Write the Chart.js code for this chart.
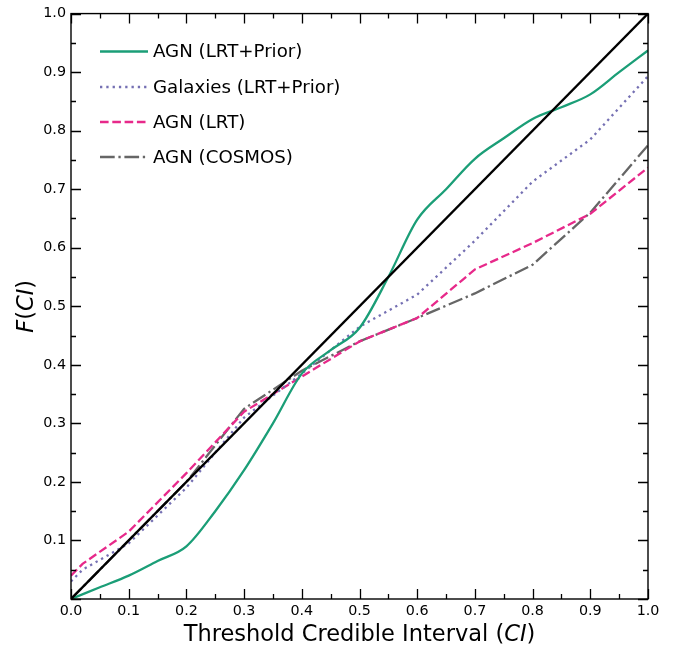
<!DOCTYPE html>
<html>
<head>
<meta charset="utf-8">
<script src="https://cdn.jsdelivr.net/npm/chart.js@4"></script>
<style>
  html, body { margin: 0; padding: 0; background: #ffffff; }
  #wrap { width: 673px; height: 647px; position: relative; }
</style>
</head>
<body>
<div id="wrap"><canvas id="cdf"></canvas></div>
<script>
// Values
const xGreen = [0, 0.05, 0.1, 0.15, 0.2, 0.25, 0.3, 0.35, 0.4, 0.45, 0.5, 0.55, 0.6, 0.65, 0.7, 0.75, 0.8, 0.85, 0.9, 0.95, 1.0];
const agnPrior = [0, 0.02, 0.04, 0.065, 0.09, 0.15, 0.22, 0.3, 0.385, 0.425, 0.463, 0.55, 0.648, 0.7, 0.752, 0.787, 0.82, 0.84, 0.862, 0.9, 0.937];

const xGal = [0, 0.02, 0.1, 0.2, 0.3, 0.4, 0.5, 0.6, 0.7, 0.8, 0.9, 1.0];
const galPrior = [0.03, 0.05, 0.095, 0.19, 0.31, 0.385, 0.465, 0.52, 0.612, 0.713, 0.785, 0.893];

const xLrt = [0, 0.02, 0.1, 0.2, 0.3, 0.4, 0.5, 0.6, 0.7, 0.8, 0.9, 1.0];
const agnLrt = [0.04, 0.06, 0.115, 0.215, 0.32, 0.38, 0.44, 0.48, 0.563, 0.608, 0.658, 0.737];

const xCos = [0, 0.1, 0.2, 0.3, 0.4, 0.5, 0.6, 0.7, 0.8, 0.9, 1.0];
const agnCosmos = [0.0, 0.1, 0.2, 0.325, 0.39, 0.44, 0.48, 0.522, 0.571, 0.66, 0.775];

const xDiag = [0, 1];
const yDiag = [0, 1];

const pts = (xs, ys) => xs.map((x, i) => ({ x: x, y: ys[i] }));

const FONT = '"DejaVu Sans", sans-serif';
const LW = 2.3;

// inward ticks on all four sides + frame
const frameTicks = {
    id: 'frameTicks',
    afterDraw(chart) {
        const { ctx, chartArea: a, scales } = chart;
        const xs = scales.x, ys = scales.y;
        ctx.save();
        ctx.strokeStyle = '#000000';
        ctx.lineWidth = 1.3;
        for (let k = 0; k <= 20; k++) {
            const v = k * 0.05;
            const len = k % 2 === 0 ? 10 : 5;
            const px = Math.round(xs.getPixelForValue(v)) + 0.5;
            const py = Math.round(ys.getPixelForValue(v)) + 0.5;
            ctx.beginPath();
            ctx.moveTo(px, a.bottom); ctx.lineTo(px, a.bottom - len);
            ctx.moveTo(px, a.top); ctx.lineTo(px, a.top + len);
            ctx.moveTo(a.left, py); ctx.lineTo(a.left + len, py);
            ctx.moveTo(a.right, py); ctx.lineTo(a.right - len, py);
            ctx.stroke();
        }
        ctx.lineWidth = 1.4;
        ctx.strokeRect(a.left, a.top, a.right - a.left, a.bottom - a.top);
        ctx.restore();
    }
};

// axis titles with italic CI, drawn as text pieces
function drawPieces(ctx, pieces, size) {
    let total = 0;
    pieces.forEach(p => {
        ctx.font = (p.it ? 'italic ' : '') + size + 'px ' + FONT;
        p.w = ctx.measureText(p.t).width;
        total += p.w;
    });
    let x = -total / 2;
    pieces.forEach(p => {
        ctx.font = (p.it ? 'italic ' : '') + size + 'px ' + FONT;
        ctx.fillText(p.t, x, 0);
        x += p.w;
    });
}

const axisTitles = {
    id: 'axisTitles',
    afterDraw(chart) {
        const { ctx, chartArea: a } = chart;
        ctx.save();
        ctx.fillStyle = '#000000';
        ctx.textAlign = 'left';
        ctx.textBaseline = 'alphabetic';
        ctx.translate((a.left + a.right) / 2, 641);
        drawPieces(ctx, [{ t: 'Threshold Credible Interval (' }, { t: 'CI', it: true }, { t: ')' }], 22.5);
        ctx.restore();

        ctx.save();
        ctx.fillStyle = '#000000';
        ctx.textAlign = 'left';
        ctx.textBaseline = 'alphabetic';
        ctx.translate(33, (a.top + a.bottom) / 2);
        ctx.rotate(-Math.PI / 2);
        drawPieces(ctx, [{ t: 'F', it: true }, { t: '(' }, { t: 'CI', it: true }, { t: ')' }], 22.5);
        ctx.restore();
    }
};

// legend inside the axes, upper left
const innerLegend = {
    id: 'innerLegend',
    afterDraw(chart) {
        const { ctx } = chart;
        const rowY = [51.5, 87, 122, 157];
        let row = 0;
        ctx.save();
        chart.data.datasets.forEach(ds => {
            if (!ds.label) return;
            const y = rowY[row++];
            ctx.strokeStyle = ds.borderColor;
            ctx.lineWidth = ds.borderWidth;
            ctx.setLineDash(ds.borderDash || []);
            ctx.beginPath();
            ctx.moveTo(100, y); ctx.lineTo(148, y);
            ctx.stroke();
            ctx.setLineDash([]);
            ctx.fillStyle = '#000000';
            ctx.font = '18.2px ' + FONT;
            ctx.textBaseline = 'middle';
            ctx.fillText(ds.label, 153, y + 1);
        });
        ctx.restore();
    }
};

new Chart(document.getElementById('cdf'), {
    type: 'line',
    data: {
        datasets: [
            {
                label: 'AGN (LRT+Prior)',
                data: pts(xGreen, agnPrior),
                borderColor: '#1b9e77',
                borderWidth: LW,
                cubicInterpolationMode: 'monotone',
                order: 2,
            },
            {
                label: 'Galaxies (LRT+Prior)',
                data: pts(xGal, galPrior),
                borderColor: '#7570b3',
                borderWidth: LW,
                borderDash: [2.3, 4],
                tension: 0,
                order: 3,
            },
            {
                label: 'AGN (LRT)',
                data: pts(xLrt, agnLrt),
                borderColor: '#e7298a',
                borderWidth: LW,
                borderDash: [8.6, 3.7],
                tension: 0,
                order: 4,
            },
            {
                label: 'AGN (COSMOS)',
                data: pts(xCos, agnCosmos),
                borderColor: '#666666',
                borderWidth: LW,
                borderDash: [14.7, 3.7, 2.3, 3.7],
                tension: 0,
                order: 5,
            },
            {
                label: '',
                data: pts(xDiag, yDiag),
                borderColor: '#000000',
                borderWidth: LW,
                order: 1,
            },
        ],
    },
    options: {
        responsive: true,
        maintainAspectRatio: false,
        animation: false,
        layout: {
            padding: { left: 0, right: 25, top: 11, bottom: 0 },
        },
        elements: {
            point: { radius: 0 },
        },
        scales: {
            x: {
                type: 'linear',
                min: 0,
                max: 1,
                afterFit: (s) => { s.height = 48; },
                border: { display: false },
                grid: { display: false, drawTicks: false },
                ticks: {
                    stepSize: 0.1,
                    padding: 4,
                    maxRotation: 0,
                    color: '#000000',
                    font: { family: FONT, size: 14.3 },
                    callback: (v) => v.toFixed(1),
                },
            },
            y: {
                type: 'linear',
                min: 0,
                max: 1,
                afterFit: (s) => { s.width = 71; },
                border: { display: false },
                grid: { display: false, drawTicks: false },
                ticks: {
                    stepSize: 0.1,
                    padding: 5,
                    color: '#000000',
                    font: { family: FONT, size: 14.3 },
                    callback: (v) => (v === 0 ? '' : v.toFixed(1)),
                },
            },
        },
        plugins: {
            legend: { display: false },
            tooltip: { enabled: false },
        },
    },
    plugins: [frameTicks, axisTitles, innerLegend],
});
</script>
</body>
</html>
